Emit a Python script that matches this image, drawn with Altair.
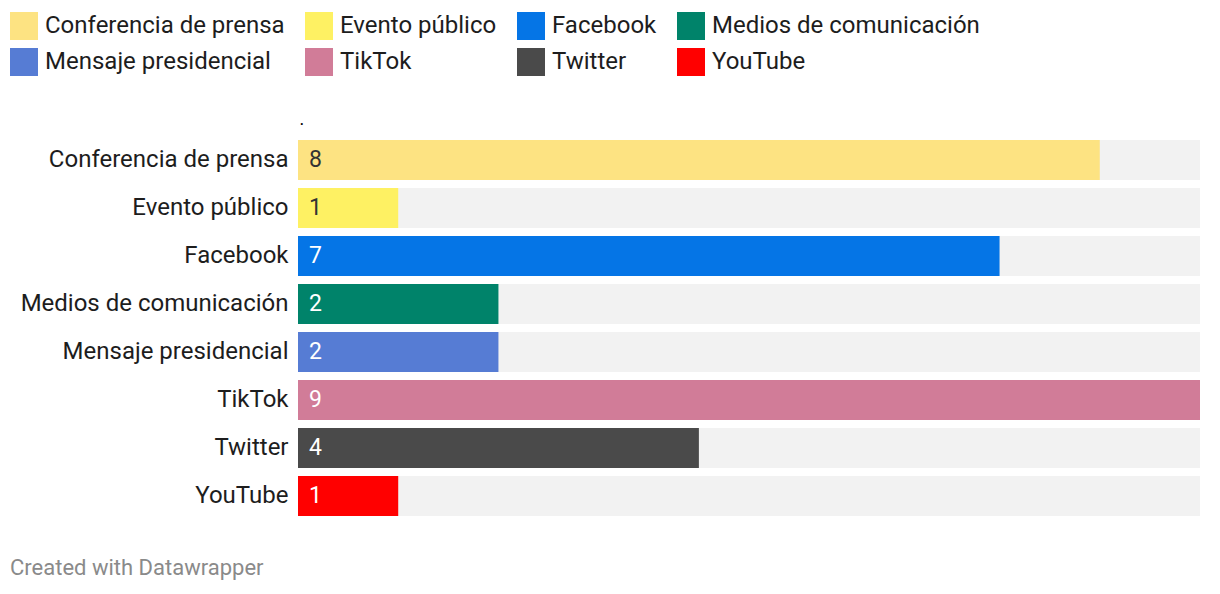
import altair as alt
import pandas as pd

categories = ["Conferencia de prensa", "Evento público", "Facebook", "Medios de comunicación",
              "Mensaje presidencial", "TikTok", "Twitter", "YouTube"]
values = [8, 1, 7, 2, 2, 9, 4, 1]
colors = ["#fde382", "#fef163", "#0575e6", "#00836a", "#567cd4", "#d17c98", "#4a4a4a", "#ff0000"]
dark_label_cats = ["Conferencia de prensa", "Evento público"]

df = pd.DataFrame({"Category": categories, "Value": values})

FONT = "Roboto"

y_enc = alt.Y("Category:N", sort=categories,
              scale=alt.Scale(paddingInner=8/48, paddingOuter=1/12),
              axis=alt.Axis(title=None, labelFontSize=24, labelColor="#1d1d1d", labelFont=FONT,
                            labelPadding=10, ticks=False, domain=False, labelLimit=400))
x_scale = alt.Scale(domain=[0, max(values)], nice=False)

base = alt.Chart(df)

bg = base.transform_joinaggregate(maxv="max(Value)").mark_bar(color="#f2f2f2").encode(
    y=y_enc,
    x=alt.X("maxv:Q", scale=x_scale,
            axis=alt.Axis(orient="top", title=".", titleAnchor="start", titleFontSize=18,
                          titleFont=FONT, titleFontWeight="normal", titleColor="#000",
                          labels=False, ticks=False, domain=False, grid=False, titlePadding=8,
                          titleX=1)),
)

bars = base.mark_bar().encode(
    y=y_enc,
    x=alt.X("Value:Q", scale=x_scale),
    color=alt.Color("Category:N", sort=categories,
                    scale=alt.Scale(domain=categories, range=colors),
                    legend=alt.Legend(title=None, orient="none", legendX=-288, legendY=-124,
                                      direction="horizontal", columns=4,
                                      symbolType="M-1,-1H1V1H-1Z", symbolSize=784,
                                      symbolStrokeWidth=0, symbolOpacity=1,
                                      labelFontSize=24, labelFont=FONT, labelColor="#1d1d1d",
                                      labelLimit=400, columnPadding=20, rowPadding=8,
                                      labelOffset=7)),
)

labels = base.mark_text(align="left", baseline="middle", dx=11, fontSize=23, font=FONT).encode(
    y=alt.Y("Category:N", sort=categories),
    x=alt.datum(0),
    text=alt.Text("Value:Q"),
    color=alt.condition(alt.FieldOneOfPredicate(field="Category", oneOf=dark_label_cats),
                        alt.value("#333333"), alt.value("#ffffff")),
)

chart = alt.layer(bg, bars, labels).properties(
    width=902, height=384,
    padding={"left": 290, "top": 128, "right": 10, "bottom": 62},
    autosize=alt.AutoSizeParams(type="none"),
    title=alt.TitleParams("Created with Datawrapper", orient="bottom", anchor="start",
                          frame="bounds", fontSize=22, font=FONT, fontWeight="normal",
                          color="#8a8a8a", offset=38),
).configure(font=FONT, view=alt.ViewConfig(strokeWidth=0))

chart.save("out.html", embed_options={"renderer": "svg", "actions": False})
